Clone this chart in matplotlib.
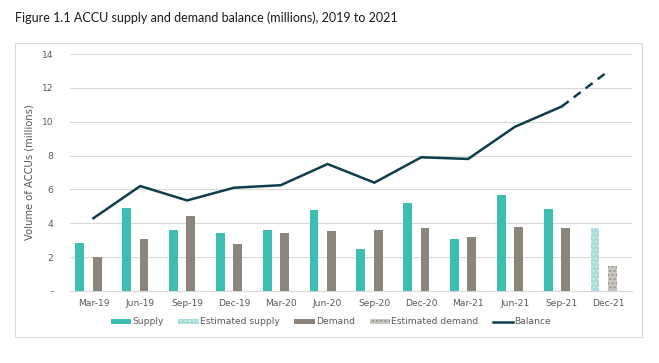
import matplotlib
matplotlib.use("Agg")
import matplotlib.pyplot as plt
from matplotlib.patches import Rectangle, Patch
from matplotlib.lines import Line2D
import numpy as np

categories = ["Mar-19", "Jun-19", "Sep-19", "Dec-19", "Mar-20", "Jun-20",
              "Sep-20", "Dec-20", "Mar-21", "Jun-21", "Sep-21", "Dec-21"]
supply = [2.85, 4.9, 3.6, 3.45, 3.6, 4.8, 2.5, 5.2, 3.1, 5.7, 4.85, None]
est_supply = [None] * 11 + [3.7]
demand = [2.0, 3.05, 4.45, 2.75, 3.4, 3.55, 3.6, 3.7, 3.2, 3.8, 3.7, None]
est_demand = [None] * 11 + [1.5]
balance = [4.3, 6.2, 5.35, 6.1, 6.25, 7.5, 6.4, 7.9, 7.8, 9.7, 10.9, 13.0]
yticks = [0, 2, 4, 6, 8, 10, 12, 14]
ytick_labels = ["-", "2", "4", "6", "8", "10", "12", "14"]

c_supply = "#3EBDB3"
c_est_supply = "#A3DDD9"
c_demand = "#8C857B"
c_est_demand = "#C9C6C1"
c_balance = "#0E3E4B"
c_text = "#595959"

plt.rcParams["hatch.linewidth"] = 0.8

W, H = 659, 363
fig = plt.figure(figsize=(W / 100, H / 100), dpi=100)
ax = fig.add_axes([70 / W, (H - 291) / H, (632 - 70) / W, (291 - 54) / H])

x = np.arange(len(categories))
bw = 0.19
off_s, off_d = -0.29, 0.08

def vals(a):
    return [np.nan if v is None else v for v in a]

ax.bar(x + off_s, vals(supply), bw, color=c_supply, zorder=3)
ax.bar(x + off_s, vals(est_supply), bw, color=c_est_supply, edgecolor="#D6F0EE",
       hatch="....", linewidth=0, zorder=3)
ax.bar(x + off_d, vals(demand), bw, color=c_demand, zorder=3)
ax.bar(x + off_d, vals(est_demand), bw, color=c_est_demand, edgecolor="#8F8A84",
       hatch="....", linewidth=0, zorder=3)

ax.plot(x[:11], balance[:11], color=c_balance, lw=1.8, zorder=4,
        solid_joinstyle="miter")
ax.plot(x[10:], balance[10:], color=c_balance, lw=1.8, zorder=4,
        dashes=(3.5, 2.5))

ax.set_xlim(-0.5, len(categories) - 0.5)
ax.set_ylim(0, 14)
ax.set_yticks(yticks)
ax.set_yticklabels(ytick_labels)
ax.set_xticks(x)
ax.set_xticklabels(categories)
ax.tick_params(axis="both", length=0, labelsize=6.6, colors=c_text, pad=6)
ax.tick_params(axis="y", pad=12)
ax.grid(axis="y", color="#D9D9D9", lw=0.8, zorder=0)
for s in ["top", "right", "left"]:
    ax.spines[s].set_visible(False)
ax.spines["bottom"].set_color("#D9D9D9")
ax.spines["bottom"].set_linewidth(0.8)
ax.set_ylabel("Volume of ACCUs (millions)", fontsize=7.2, color=c_text)
ax.yaxis.set_label_coords((35 - 70) / (632 - 70), 0.5)

handles = [
    Patch(facecolor=c_supply, label="Supply"),
    Patch(facecolor=c_est_supply, edgecolor="#D6F0EE", hatch="....", linewidth=0,
          label="Estimated supply"),
    Patch(facecolor=c_demand, label="Demand"),
    Patch(facecolor=c_est_demand, edgecolor="#8F8A84", hatch="....", linewidth=0,
          label="Estimated demand"),
    Line2D([0], [0], color=c_balance, lw=1.8, label="Balance"),
]
leg = fig.legend(handles=handles, loc="center", bbox_to_anchor=(331 / W, 1 - 322 / H),
                 ncol=5, frameon=False, fontsize=6.6, handlelength=2.2,
                 handleheight=0.5, handletextpad=0.15, columnspacing=1.6)
for t in leg.get_texts():
    t.set_color(c_text)

fig.patches.append(Rectangle((15 / W, (H - 337) / H), 627 / W, 294 / H,
                             transform=fig.transFigure, fill=False,
                             edgecolor="#D9D9D9", lw=0.8))

fig.text(15 / W, 1 - 18 / H, "Figure 1.1 ACCU supply and demand balance (millions), 2019 to 2021",
         fontsize=9, family="Lato", va="center", ha="left", color="#1a1a1a")

fig.savefig("out.png", dpi=100)
